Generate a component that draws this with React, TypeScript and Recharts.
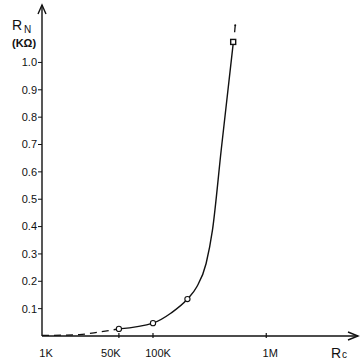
import React from "react";
import { ComposedChart, Line, Scatter, XAxis, YAxis, ReferenceDot } from "recharts";

// x is log10(R) in ohms; the 1K tick sits at the origin (broken axis)
const xTicks = [4.02, 4.699, 5, 6];
const xTickLabels = ["1K", "50K", "100K", "1M"];
const yTicks = [0.1, 0.2, 0.3, 0.4, 0.5, 0.6, 0.7, 0.8, 0.9, 1.0];

const dashedX = [4.02, 4.35, 4.53, 4.699];
const dashedY = [0.002, 0.005, 0.015, 0.026];

const curveX = [4.699, 5.0, 5.16, 5.304, 5.387, 5.469, 5.525, 5.602, 5.708];
const curveY = [0.026, 0.047, 0.084, 0.135, 0.18, 0.265, 0.387, 0.679, 1.069];

const circleX = [4.699, 5.0, 5.304];
const circleY = [0.026, 0.047, 0.135];

const squareX = [5.708];
const squareY = [1.075];

const markX = [5.726];
const markY = [1.125];

const X_MIN = 4.02;
const X_MAX = 6.81;
const Y_MAX = 1.21;

const zip = (xs: number[], ys: number[]) => xs.map((x, i) => ({ x, y: ys[i] }));

const dashedData = zip(dashedX, dashedY);
const curveData = zip(curveX, curveY);
const circleData = zip(circleX, circleY);
const squareData = zip(squareX, squareY);
const markData = zip(markX, markY);

const INK = "#111";
const FONT = "'Liberation Sans', Arial, sans-serif";

const labelShift: Record<string, number> = { "1K": 4, "50K": -8, "100K": 5, "1M": 4 };

const XTick = (props: any) => {
  const { x, y, payload } = props;
  const i = xTicks.indexOf(payload.value);
  const label = xTickLabels[i] ?? "";
  return (
    <g>
      {i > 0 && <line x1={x} y1={y} x2={x} y2={y - 5} stroke={INK} strokeWidth={1.2} />}
      <text x={x + (labelShift[label] || 0)} y={y + 19} textAnchor="middle" fontSize={11} fontFamily={FONT} fill={INK}>
        {label}
      </text>
    </g>
  );
};

const Circle = (props: any) => (
  <circle cx={props.cx} cy={props.cy} r={2.6} fill="#fff" stroke={INK} strokeWidth={1.1} />
);

const Square = (props: any) => (
  <rect x={props.cx - 2.5} y={props.cy - 2.5} width={5} height={5} fill="#fff" stroke={INK} strokeWidth={1.4} />
);

const Mark = (props: any) => (
  <g>
    <line x1={props.cx} y1={props.cy - 3} x2={props.cx - 0.6} y2={props.cy + 4} stroke={INK} strokeWidth={1.3} />
    <circle cx={props.cx} cy={props.cy - 3} r={1} fill={INK} />
  </g>
);

const ArrowUp = (props: any) => (
  <path d={`M${props.cx - 4},${props.cy + 9} L${props.cx},${props.cy} L${props.cx + 4},${props.cy + 9}`} fill="none" stroke={INK} strokeWidth={1.4} />
);

const ArrowRight = (props: any) => (
  <path d={`M${props.cx - 10},${props.cy - 4} L${props.cx},${props.cy} L${props.cx - 10},${props.cy + 4}`} fill="none" stroke={INK} strokeWidth={1.4} />
);

export default function App() {
  return (
    <div style={{ position: "absolute", left: 0, top: 0, width: 362, height: 362, background: "#fff" }}>
      <ComposedChart width={362} height={362} margin={{ top: 5, right: 4, bottom: 0, left: 0 }}>
        <XAxis
          type="number"
          dataKey="x"
          domain={[X_MIN, X_MAX]}
          ticks={xTicks}
          tick={<XTick />}
          tickLine={false}
          tickSize={0}
          height={26}
          axisLine={{ stroke: INK, strokeWidth: 1.4 }}
          allowDataOverflow
        />
        <YAxis
          type="number"
          dataKey="y"
          domain={[0, Y_MAX]}
          ticks={yTicks}
          width={42}
          tickSize={4}
          tickMargin={1}
          tickFormatter={(v: number) => v.toFixed(1)}
          tick={{ fontSize: 11, fontFamily: FONT, fill: INK }}
          tickLine={{ stroke: INK }}
          axisLine={{ stroke: INK, strokeWidth: 1.4 }}
          allowDataOverflow
        />
        <Line data={dashedData} dataKey="y" type="monotone" stroke={INK} strokeWidth={1.3} strokeDasharray="7 5" dot={false} isAnimationActive={false} />
        <Line data={curveData} dataKey="y" type="monotone" stroke={INK} strokeWidth={1.4} dot={false} isAnimationActive={false} />
        <Scatter data={circleData} dataKey="y" shape={<Circle />} isAnimationActive={false} />
        <Scatter data={squareData} dataKey="y" shape={<Square />} isAnimationActive={false} />
        <Scatter data={markData} dataKey="y" shape={<Mark />} isAnimationActive={false} />
        <ReferenceDot x={X_MIN} y={Y_MAX} shape={<ArrowUp />} ifOverflow="visible" />
        <ReferenceDot x={X_MAX} y={0} shape={<ArrowRight />} ifOverflow="visible" />
      </ComposedChart>
      <svg width={362} height={362} style={{ position: "absolute", left: 0, top: 0, pointerEvents: "none" }}>
        <text x={12} y={30} fontSize={14} fontFamily={FONT} fill={INK}>R</text>
        <text x={24} y={33} fontSize={10} fontFamily={FONT} fill={INK}>N</text>
        <text x={12} y={47} fontSize={11} fontWeight="bold" fontFamily={FONT} fill={INK}>(KΩ)</text>
        <text x={331} y={358} fontSize={14} fontFamily={FONT} fill={INK}>R</text>
        <text x={342} y={358} fontSize={10} fontFamily={FONT} fill={INK}>c</text>
      </svg>
    </div>
  );
}
